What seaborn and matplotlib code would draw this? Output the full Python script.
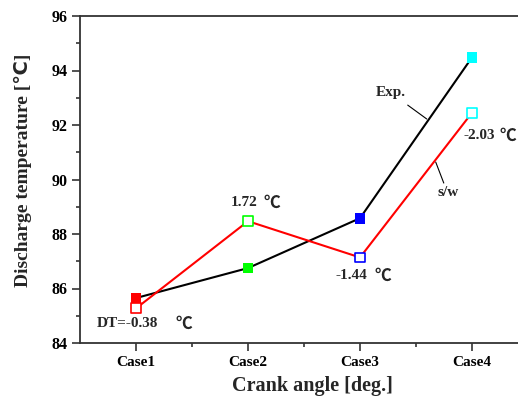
import matplotlib
matplotlib.use("Agg")
import matplotlib.pyplot as plt
import seaborn as sns
import numpy as np
import pandas as pd

cases = ["Case1", "Case2", "Case3", "Case4"]
exp_vals = [85.65, 86.75, 88.58, 94.48]
sw_vals = [85.27, 88.47, 87.14, 92.45]
marker_colors = ["#FF0000", "#00FF00", "#0000FF", "#00FFFF"]
diff_labels = ["DT=-0.38", "1.72", "-1.44", "-2.03"]
y_ticks = [84, 86, 88, 90, 92, 94, 96]

sns.set_style("ticks")
plt.rcParams["font.family"] = ["Liberation Serif", "DejaVu Sans"]
plt.rcParams["font.weight"] = "bold"

fig = plt.figure(figsize=(5.18, 3.99), dpi=100)
ax = fig.add_axes([80/518, 56/399, 448/518, 327/399])

pos = np.arange(len(cases))
df = pd.DataFrame({"pos": pos, "case": cases, "exp": exp_vals, "sw": sw_vals})

sns.lineplot(data=df, x="pos", y="exp", color="black", lw=1.5, sort=False, ax=ax)
sns.scatterplot(data=df, x="pos", y="exp", hue="case", palette=marker_colors,
                marker="s", s=60, linewidth=0, legend=False, ax=ax, zorder=3)
sns.lineplot(data=df, x="pos", y="sw", color="#FF0000", lw=1.5, sort=False, ax=ax)
sns.scatterplot(data=df, x="pos", y="sw", hue="case", palette=marker_colors,
                marker="s", s=50, linewidth=1.2, legend=False, ax=ax, zorder=3)
coll = ax.collections[-1]
coll.set_edgecolors(marker_colors)
coll.set_facecolors("white")

ax.set_xlim(-0.5, 3.5)
ax.set_ylim(84, 96)
ax.set_xticks(pos)
ax.set_xticklabels(cases)
ax.set_xticks([0.5, 1.5, 2.5], minor=True)
ax.set_yticks(y_ticks)
ax.set_yticks([85, 87, 89, 91, 93, 95], minor=True)
ax.tick_params(axis="both", which="major", direction="out", length=6, width=1.2,
               colors="#333333", pad=3)
ax.tick_params(axis="both", which="minor", direction="out", length=3, width=1.2,
               colors="#333333")
ax.tick_params(axis="both", labelcolor="black")
for lab in ax.get_xticklabels():
    lab.set_fontsize(11); lab.set_fontweight("bold")
for lab in ax.get_yticklabels():
    lab.set_fontsize(11.5); lab.set_fontweight("bold")
for sp in ax.spines.values():
    sp.set_linewidth(1.3)
    sp.set_color("#333333")
ax.spines["right"].set_visible(False)

ax.set_xlabel("Crank angle [deg.]", fontsize=14.5, fontweight="bold")
ax.set_ylabel("Discharge temperature [℃]", fontsize=14, fontweight="bold")
ax.xaxis.label.set_va("center")
ax.xaxis.set_label_coords(0.518, -0.131)
ax.yaxis.label.set_va("center")
ax.yaxis.set_label_coords(-0.127, 0.529)

tfont = dict(fontsize=11, fontweight="bold")
cfont = dict(fontsize=12, fontweight="bold", family=["Noto Sans CJK SC", "DejaVu Sans"])
# diff labels
ax.text(-0.349, 84.70, diff_labels[0], ha="left", va="center", **tfont)
ax.text(0.430, 84.70, "℃", ha="center", va="center", **cfont)
ax.text(0.85, 89.14, diff_labels[1], ha="left", va="center", **tfont)
ax.text(1.209, 89.14, "℃", ha="center", va="center", **cfont)
ax.text(1.782, 86.46, diff_labels[2], ha="left", va="center", **tfont)
ax.text(2.202, 86.46, "℃", ha="center", va="center", **cfont)
ax.text(2.927, 91.60, diff_labels[3], ha="left", va="center", **tfont)
ax.text(3.32, 91.60, "℃", ha="center", va="center", **cfont)

ax.text(2.274, 93.21, "Exp.", ha="center", va="center", **tfont)
ax.plot([2.426, 2.596], [92.73, 92.22], color="black", lw=0.8)
ax.text(2.784, 89.54, "s/w", ha="center", va="center", **tfont)
ax.plot([2.676, 2.748], [90.64, 89.87], color="black", lw=0.8)

fig.savefig("out.png", dpi=100)
